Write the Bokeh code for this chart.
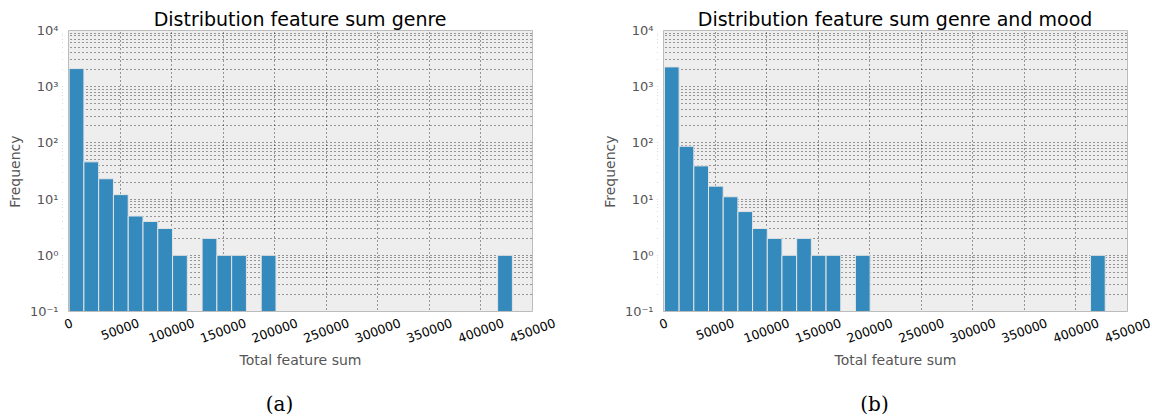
import math
from bokeh.plotting import figure
from bokeh.layouts import row
from bokeh.models import (FixedTicker, CustomJSTickFormatter, ColumnDataSource, Range1d, Title)
from bokeh.core.properties import value
from bokeh.embed import file_html
from bokeh.resources import INLINE

# ---- data ----
titles = ["Distribution feature sum genre", "Distribution feature sum genre and mood"]
captions = ["(a)", "(b)"]
bin_start = [600, 900]
bin_width = [14330, 14250]
counts_a = [2100, 46, 23, 12, 5, 4, 3, 1, 0, 2, 1, 1, 0, 1, 0,
            0, 0, 0, 0, 0, 0, 0, 0, 0, 0, 0, 0, 0, 0, 1]
counts_b = [2250, 87, 39, 17, 11, 6, 3, 2, 1, 2, 1, 1, 0, 1, 0,
            0, 0, 0, 0, 0, 0, 0, 0, 0, 0, 0, 0, 0, 0, 1]
x_ticks = [0, 50000, 100000, 150000, 200000, 250000, 300000, 350000, 400000, 450000]
y_ticks = [0.1, 1, 10, 100, 1000, 10000]
x_label = "Total feature sum"
y_label = "Frequency"

# ---- style / layout ----
BAR = "#348ABD"
BG = "#EEEEEE"
FRAME = "#BCBCBC"
GRAY = "#555555"
FONT = "DejaVu Sans"

X0, X1 = 0, 450000
Y0, Y1 = 0.1, 10000
XMID = (X0 + X1) / 2

FW, FH = 464, 281          # plot-area size in px
B_LEFT, B_TOP = 58, 29     # y-axis border / title border
PAD_T = 1                  # px above plot area inside the frame (keeps top edge visible)
PAD_L = 6                  # px between y-axis line and plot area (room for "0" label)
PAD_R = [63, 31]           # px right of plot area
STRIP_H = 106              # px under plot area for x labels and caption
TICK_FS = 12.5
TITLE_FS = 19
ANG = math.radians(20)

U = (X1 - X0) / FW                      # data units per px (x)
DEC = FH / math.log10(Y1 / Y0)          # px per decade (y)

y_minor = [m * 10.0 ** e for e in range(-1, 4) for m in range(2, 10)]

sup_js = """
const sup = {'-':'\u207b','0':'\u2070','1':'\u00b9','2':'\u00b2','3':'\u00b3','4':'\u2074',
             '5':'\u2075','6':'\u2076','7':'\u2077','8':'\u2078','9':'\u2079'};
const e = Math.round(Math.log10(tick));
return '10' + String(e).split('').map(c => sup[c]).join('');
"""


def y_below(px):
    """data y lying px pixels under the bottom of the plot area (log scale)"""
    return Y0 / 10 ** (px / DEC)


def tick_center_below_axis(txt):
    # matplotlib-like placement: top of the rotated bbox 5px below the axis
    w = len(txt) * 0.636 * TICK_FS
    h = w * math.sin(ANG) + TICK_FS * math.cos(ANG)
    return 5 + h / 2


def make(idx, counts):
    n = len(counts)
    left = [bin_start[idx] + i * bin_width[idx] for i in range(n)]
    right = [l + bin_width[idx] for l in left]
    keep = [i for i in range(n) if counts[i] > 0]
    src = ColumnDataSource(dict(left=[left[i] for i in keep], right=[right[i] for i in keep],
                                top=[counts[i] for i in keep], bottom=[Y0] * len(keep)))

    x_start, x_end = X0 - PAD_L * U, X1 + PAD_R[idx] * U
    y_start, y_end = y_below(STRIP_H), Y1 * 10 ** (PAD_T / DEC)
    p = figure(frame_width=PAD_L + FW + PAD_R[idx], frame_height=PAD_T + FH + STRIP_H,
               y_axis_type="log", x_range=Range1d(x_start, x_end),
               y_range=Range1d(y_start, y_end), output_backend="svg", toolbar_location=None,
               min_border_left=B_LEFT, min_border_right=0, min_border_top=B_TOP,
               min_border_bottom=0, background_fill_color="white", border_fill_color="white",
               outline_line_color=None, x_axis_location=None)

    # title, centred on the plot area
    title_w = [15.46, 20.81][idx] * TITLE_FS
    p.title.text = titles[idx]
    p.title.align = "left"
    p.title.offset = PAD_L + FW / 2 - title_w / 2
    p.title.text_font = FONT
    p.title.text_font_size = f"{TITLE_FS}px"
    p.title.text_font_style = "normal"
    p.title.text_color = "black"
    p.title.standoff = 0

    # plot-area background (under the grid)
    p.quad(left=[X0], right=[X1], bottom=[Y0], top=[Y1], fill_color=BG, line_color=None,
           level="image")
    # white masks so grid lines stay inside the plot area
    p.quad(left=[x_start, x_start, X1, x_start], right=[x_end, X0, x_end, x_end],
           bottom=[y_start, Y0, Y0, Y1], top=[Y0, y_end, y_end, y_end],
           fill_color="white", line_color=None)
    # histogram bars
    p.quad(left="left", right="right", top="top", bottom="bottom", source=src,
           fill_color=BAR, line_color="#E4E4E4", line_width=1)
    # plot-area frame
    p.quad(left=[X0], right=[X1], bottom=[Y0], top=[Y1], fill_color=None,
           line_color=FRAME, line_width=1)

    # x tick labels (centred, rotated), x title, caption
    labels = [str(t) for t in x_ticks]
    p.text(x=x_ticks, y=[y_below(tick_center_below_axis(t)) for t in labels], text=labels,
           angle=ANG, text_align="center", text_baseline="middle", text_font=value(FONT),
           text_font_size=f"{TICK_FS}px", text_color="black")
    p.text(x=[XMID], y=[y_below(48)], text=[x_label], text_align="center",
           text_baseline="middle", text_font=value(FONT), text_font_size="14px",
           text_color=GRAY)
    p.text(x=[XMID - 21 * U], y=[y_below(92)], text=[captions[idx]], text_align="center",
           text_baseline="middle", text_font=value("DejaVu Serif"), text_font_size="20px",
           text_color="black")

    # grids (edges of the plot area are drawn by the frame)
    p.xgrid.ticker = FixedTicker(ticks=x_ticks[1:-1])
    p.ygrid.ticker = FixedTicker(ticks=y_ticks[1:-1], minor_ticks=y_minor)
    for g in (p.xgrid, p.ygrid):
        g.grid_line_color = "black"
        g.grid_line_dash = "1 3"
        g.grid_line_alpha = 0.75
    p.ygrid.minor_grid_line_color = "black"
    p.ygrid.minor_grid_line_dash = "1 3"
    p.ygrid.minor_grid_line_alpha = 0.75

    # y axis
    ax = p.yaxis[0]
    ax.ticker = FixedTicker(ticks=y_ticks, minor_ticks=y_minor)
    ax.formatter = CustomJSTickFormatter(code=sup_js)
    ax.major_label_text_color = GRAY
    ax.major_label_text_font = FONT
    ax.major_label_text_font_size = "13px"
    ax.axis_line_color = None
    ax.major_tick_line_color = None
    ax.minor_tick_line_color = None
    ax.major_tick_out = 0
    ax.major_tick_in = 0
    ax.minor_tick_out = 0
    ax.minor_tick_in = 0
    ax.major_label_standoff = 4

    # y-axis title, centred on the plot area (not on the whole frame)
    ylab_w = 5.26 * 14
    p.add_layout(Title(text=y_label, align="left", offset=STRIP_H + FH / 2 - ylab_w / 2,
                       text_font=FONT, text_font_size="14px", text_font_style="normal",
                       text_color=GRAY, standoff=8), "left")
    return p


pa = make(0, counts_a)
pb = make(1, counts_b)
layout = row(pa, pb)

open("out.html", "w").write(file_html(layout, INLINE))
